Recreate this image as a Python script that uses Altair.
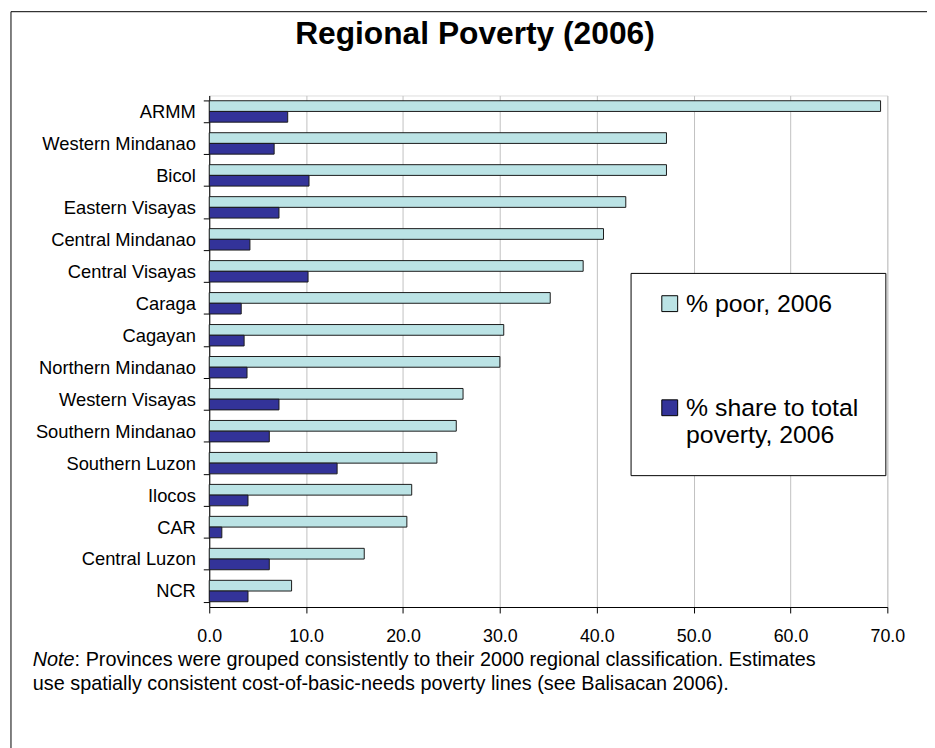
import altair as alt
import pandas as pd

regions = ["ARMM", "Western Mindanao", "Bicol", "Eastern Visayas", "Central Mindanao",
           "Central Visayas", "Caraga", "Cagayan", "Northern Mindanao", "Western Visayas",
           "Southern Mindanao", "Southern Luzon", "Ilocos", "CAR", "Central Luzon", "NCR"]
poor_2006 = [69.3, 47.2, 47.2, 43.0, 40.7, 38.6, 35.2, 30.4, 30.0, 26.2, 25.5, 23.5, 20.9, 20.4, 16.0, 8.5]
share_2006 = [8.1, 6.7, 10.3, 7.2, 4.2, 10.2, 3.3, 3.6, 3.9, 7.2, 6.2, 13.2, 4.0, 1.3, 6.2, 4.0]
series_names = ["% poor, 2006", "% share to total poverty, 2006"]
series_colors = ["#BBE3E5", "#333399"]
x_ticks = [0, 10, 20, 30, 40, 50, 60, 70]

title_text = "Regional Poverty (2006)"
note_label = "Note"
note_line1 = ": Provinces were grouped consistently to their 2000 regional classification. Estimates"
note_line2 = "use spatially consistent cost-of-basic-needs poverty lines (see Balisacan 2006)."

rows = []
for r, p, s in zip(regions, poor_2006, share_2006):
    rows.append({"region": r, "series": series_names[0], "value": p})
    rows.append({"region": r, "series": series_names[1], "value": s})
df = pd.DataFrame(rows)

FONT = "Liberation Sans"

bars = alt.Chart(df).mark_bar(stroke="#1a1a1a", strokeWidth=1).encode(
    x=alt.X("value:Q",
            scale=alt.Scale(domain=[0, 70], nice=False),
            axis=alt.Axis(title=None, values=x_ticks, format=".1f", tickSize=6,
                          tickColor="black", domainColor="black", gridColor="#C0C0C0",
                          labelFontSize=18, labelColor="black", labelPadding=15,
                          labelFlush=False, labelFont=FONT)),
    y=alt.Y("region:N", sort=regions,
            scale=alt.Scale(paddingInner=0.33, paddingOuter=0.165),
            axis=alt.Axis(title=None, tickBand="extent", tickSize=6, tickColor="black",
                          domainColor="black", labelFontSize=18.5, labelColor="black",
                          labelPadding=8, labelLimit=300, grid=False, labelFont=FONT)),
    yOffset=alt.YOffset("series:N", sort=series_names),
    color=alt.Color("series:N", sort=series_names,
                    scale=alt.Scale(domain=series_names, range=series_colors),
                    legend=alt.Legend(
                        title=None, orient="none", legendX=425, legendY=179,
                        symbolType="M-1,-2.0625H1V-0.0625H-1Z", symbolSize=256,
                        symbolStrokeColor="black", symbolStrokeWidth=1,
                        labelFontSize=25, labelColor="black", labelFont=FONT,
                        labelBaseline="alphabetic", labelOffset=4, labelLimit=400,
                        labelExpr="datum.label == '% share to total poverty, 2006' ? ['% share to total', 'poverty, 2006'] : datum.label",
                        rowPadding=79, padding=27, strokeColor="black", fillColor="white")),
)

one = pd.DataFrame({"k": [0]})

frame = alt.Chart(one).mark_rect(fillOpacity=0, stroke="black", strokeWidth=1).encode(
    x=alt.value(-200), x2=alt.value(800), y=alt.value(-84.5), y2=alt.value(700)
)

title = alt.Chart(one).mark_text(
    text=title_text, font=FONT, fontSize=32, fontWeight="bold", align="center",
    baseline="alphabetic", color="black"
).encode(x=alt.value(268), y=alt.value(-52))

note_a = alt.Chart(one).mark_text(
    text=note_label, font=FONT, fontSize=20, fontStyle="italic", align="left",
    baseline="alphabetic", color="black"
).encode(x=alt.value(-178), y=alt.value(575))

note_b = alt.Chart(one).mark_text(
    text=note_line1, font=FONT, fontSize=20, align="left",
    baseline="alphabetic", color="black"
).encode(x=alt.value(-135.8), y=alt.value(575))

note_c = alt.Chart(one).mark_text(
    text=note_line2, font=FONT, fontSize=20, align="left",
    baseline="alphabetic", color="black"
).encode(x=alt.value(-178), y=alt.value(600))

chart = alt.layer(frame, bars, title, note_a, note_b, note_c).properties(
    width=684, height=516,
    autosize=alt.AutoSizeParams(type="none"),
    padding={"left": 203, "top": 85, "right": 40, "bottom": 140},
).configure_view(stroke="black", strokeWidth=1).configure(font=FONT)

chart.save("out.html", embed_options={"renderer": "svg", "actions": False})
